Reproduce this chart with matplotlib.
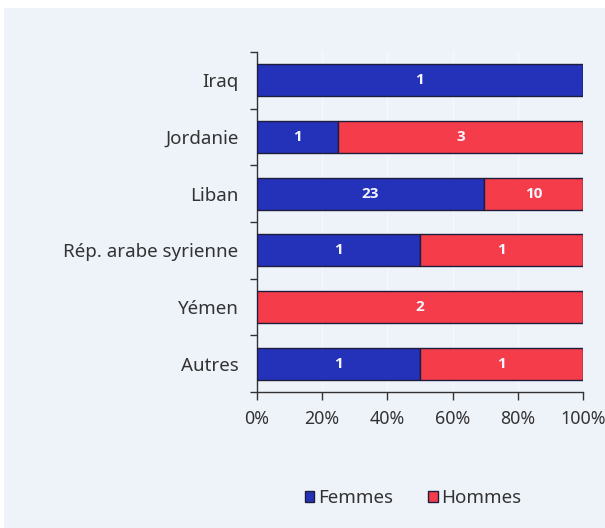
import matplotlib.pyplot as plt
from matplotlib.patches import Rectangle
import numpy as np

plt.rcParams['font.family'] = ['Noto Sans', 'DejaVu Sans']

pays = ['Iraq', 'Jordanie', 'Liban', 'Rép. arabe syrienne', 'Yémen', 'Autres']
femmes = [1, 1, 23, 1, 0, 1]
hommes = [0, 3, 10, 1, 2, 1]
xticks_lbl = ['0%', '20%', '40%', '60%', '80%', '100%']

bleu = '#2332b9'
rouge = '#f43c4b'
fond = '#eef3fa'
bord = '#1e1e3c'
gris = '#333333'

fig = plt.figure(figsize=(6.05, 5.28), dpi=100, facecolor='white')
fig.patches.append(Rectangle((4 / 605, 0), 1, 1 - 8 / 528, transform=fig.transFigure,
                             facecolor=fond, edgecolor='none', zorder=-10))
ax = fig.add_axes([256.5 / 605, 1 - 392 / 528, 326.8 / 605, 340 / 528])
ax.set_facecolor('none')

f = np.array(femmes, dtype=float)
h = np.array(hommes, dtype=float)
tot = f + h
pf = f / tot * 100
ph = h / tot * 100
y = np.arange(len(pays))

bf = ax.barh(y, pf, height=0.565, color=bleu, edgecolor=bord, linewidth=1, label='Femmes', zorder=3)
bh = ax.barh(y, ph, left=pf, height=0.565, color=rouge, edgecolor=bord, linewidth=1, label='Hommes', zorder=3)

# effectifs écrits au centre de chaque segment (gras : Open Sans)
for rects, vals in ((bf, femmes), (bh, hommes)):
    for r, v in zip(rects, vals):
        if v > 0:
            ax.text(r.get_x() + r.get_width() / 2, r.get_y() + r.get_height() / 2, str(v),
                    ha='center', va='center', color='#f4f6ff', fontsize=11,
                    fontweight='bold', family=['Open Sans', 'DejaVu Sans'], zorder=4)

ax.set_xlim(0, 100)
ax.set_ylim(len(pays) - 0.5, -0.5)
ax.set_xticks(np.arange(0, 101, 20))
ax.set_xticklabels(xticks_lbl)
ax.set_yticks(y)
ax.set_yticklabels(pays)
ax.set_yticks(np.arange(-0.5, len(pays), 1), minor=True)
ax.tick_params(axis='y', which='major', length=0, pad=13, labelsize=13.5, labelcolor=gris)
ax.tick_params(axis='y', which='minor', length=5, width=1, color=gris)
ax.tick_params(axis='x', length=6, width=1, color=gris, labelsize=12.8,
               labelcolor=gris, pad=7)
ax.grid(axis='x', color='#f6f8fd', linewidth=1, zorder=0)
for s in ('top', 'right'):
    ax.spines[s].set_visible(False)
for s in ('left', 'bottom'):
    ax.spines[s].set_color(gris)
    ax.spines[s].set_linewidth(1)

fig.legend(handles=[bf, bh], labels=['Femmes', 'Hommes'], loc='center',
           bbox_to_anchor=(413 / 605, 1 - 498 / 528), ncol=2, frameon=False,
           handlelength=0.5, handleheight=0.5, handletextpad=0.2, columnspacing=1.9,
           fontsize=13.5, labelcolor=gris)

fig.savefig('out.png', dpi=100, facecolor=fig.get_facecolor())
